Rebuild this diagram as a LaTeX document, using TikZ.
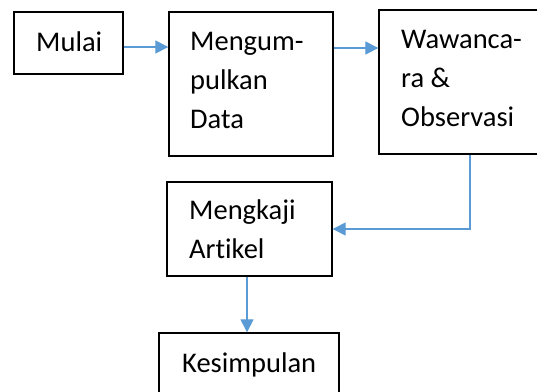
\documentclass[tikz,border=0pt]{standalone}
\usepackage{fontspec}
\setmainfont[Ligatures=NoCommon]{Carlito}
\usetikzlibrary{arrows.meta}
\definecolor{lineblue}{RGB}{91,155,213}
\tikzset{
  box/.style={draw=black, line width=1.3pt, inner sep=0pt, fill=none},
  txt/.style={inner sep=0pt, anchor=base west, align=left,
    font=\fontsize{28.5}{39}\selectfont},
  arr/.style={draw=lineblue, line width=1.1pt,
    -{Triangle[length=13pt,width=13pt]}}
}
\begin{document}
\begin{tikzpicture}[x=1pt,y=-1pt]
\useasboundingbox (0,0) rectangle (537,391);
\clip (0,0) rectangle (537,391);
\node[box, minimum width=109pt, minimum height=62pt] (A) at (68.5,43) {};
\node[box, minimum width=164pt, minimum height=144pt] (B) at (251,84) {};
\node[box, minimum width=182pt, minimum height=144pt] (C) at (470,82) {};
\node[box, minimum width=165pt, minimum height=94pt] (D) at (249.5,229) {};
\node[box, minimum width=180pt, minimum height=70pt] (E) at (249,368) {};
\node[txt] (tA) at (36,51) {Mulai};
\node[txt] (tB) at (190,128) {Mengum-\\pulkan\\Data};
\node[txt] (tC) at (401,126) {Wawanca-\\ra \&\\Observasi};
\node[txt] (tD) at (189,258) {Mengkaji\\Artikel};
\node[txt] (tE) at (182,372) {Kesimpulan};
\draw[arr] ([yshift=-4pt]A.east) -- ([yshift=37pt]B.west);
\draw[arr] ([yshift=36pt]B.east) -- ([yshift=36pt]B.east -| C.west);
\draw[arr] (C.south) |- (D.east);
\draw[arr] ([xshift=-2.5pt]D.south) -- ([xshift=-2.5pt]D.south |- E.north);
\end{tikzpicture}
\end{document}
